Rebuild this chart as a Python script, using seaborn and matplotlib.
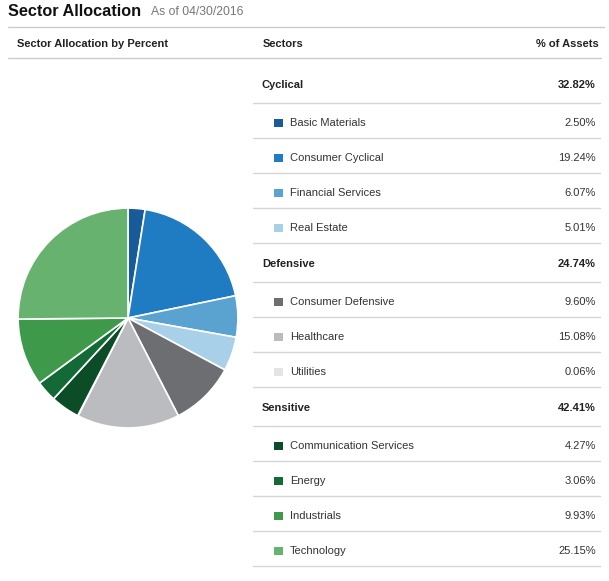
import matplotlib
matplotlib.use("Agg")
import matplotlib.pyplot as plt
import seaborn as sns
from matplotlib.patches import Rectangle
from matplotlib.lines import Line2D

sns.set_theme(style="white")
plt.rcParams['font.family'] = ['Liberation Sans', 'DejaVu Sans']

title = "Sector Allocation"
subtitle = "As of 04/30/2016"
groups = ["Cyclical", "Defensive", "Sensitive"]
group_totals = ["32.82%", "24.74%", "42.41%"]
sectors = ["Basic Materials", "Consumer Cyclical", "Financial Services", "Real Estate",
           "Consumer Defensive", "Healthcare", "Utilities",
           "Communication Services", "Energy", "Industrials", "Technology"]
sector_group = [0, 0, 0, 0, 1, 1, 1, 2, 2, 2, 2]
values = [2.50, 19.24, 6.07, 5.01, 9.60, 15.08, 0.06, 4.27, 3.06, 9.93, 25.15]
colors = ["#195a98", "#1f7bc2", "#5aa3d0", "#a8d0e8",
          "#6d6e71", "#bbbcbf", "#e4e4e4",
          "#0c4c27", "#146a36", "#3e9a4a", "#68b270"]

W, H = 609, 581
fig = plt.figure(figsize=(W / 100, H / 100), dpi=100)
fig.patch.set_facecolor("white")

def fx(x):
    return x / W

def fy(y):
    return 1 - y / H

def text(x, y, s, **kw):
    fig.text(fx(x), fy(y), s, va="center", **kw)

def hline(x0, x1, y, color="#d6d6d6", lw=1.0):
    fig.add_artist(Line2D([fx(x0), fx(x1)], [fy(y), fy(y)], color=color, lw=lw,
                          transform=fig.transFigure))

FS = 8.0
# Title
text(8, 11, title, fontsize=11.7, fontweight="bold", color="#111111")
text(151, 12, subtitle, fontsize=8.8, color="#777777")
hline(8, 604, 27, color="#cccccc")

# Header
text(17, 44, "Sector Allocation by Percent", fontsize=FS, fontweight="bold", color="#222222")
text(263, 44, "Sectors", fontsize=FS, fontweight="bold", color="#222222")
text(599, 44, "% of Assets", fontsize=FS, fontweight="bold", color="#222222", ha="right")
hline(8, 601, 58, color="#cccccc")

# Table
y = 85
line_x0, line_x1 = 253, 600
for g, gname in enumerate(groups):
    text(262, y, gname, fontsize=FS, fontweight="bold", color="#222222")
    text(596, y, group_totals[g], fontsize=FS, fontweight="bold", color="#222222", ha="right")
    line_y = y + 18
    hline(line_x0, line_x1, line_y)
    for i, s in enumerate(sectors):
        if sector_group[i] != g:
            continue
        line_y += 35
        ty = line_y - 15
        sq = 8
        fig.add_artist(Rectangle((fx(274), fy(ty + sq / 2)), 9 / W, sq / H,
                                 facecolor=colors[i], edgecolor="none",
                                 transform=fig.transFigure))
        text(290, ty, s, fontsize=FS, color="#333333")
        text(596, ty, f"{values[i]:.2f}%", fontsize=FS, color="#333333", ha="right")
        hline(line_x0, line_x1, line_y)
    y = line_y + 21

# Pie
cx, cy, r = 128, 318, 111
ax = fig.add_axes([fx(cx - r), fy(cy + r), 2 * r / W, 2 * r / H])
ax.pie(values, colors=colors, startangle=90, counterclock=False,
       wedgeprops=dict(edgecolor="white", linewidth=1.2), radius=1.0)
ax.set_xlim(-1.01, 1.01)
ax.set_ylim(-1.01, 1.01)
ax.set_aspect("equal")
ax.axis("off")

fig.savefig("out.png", dpi=100, facecolor="white")
